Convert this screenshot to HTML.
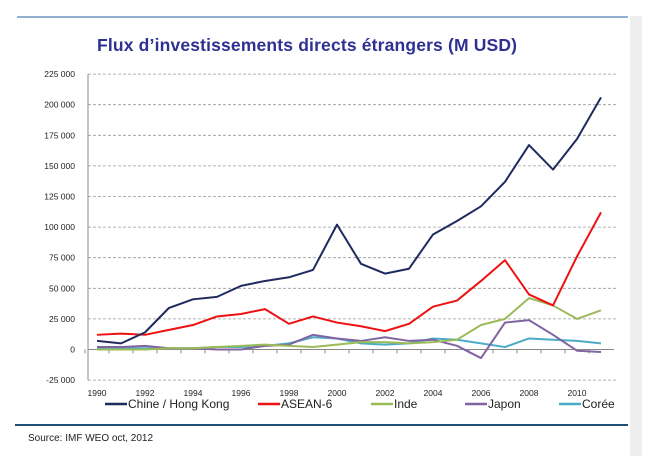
<!DOCTYPE html>
<html><head><meta charset="utf-8"><style>
body{margin:0;background:#fff;width:651px;height:464px;overflow:hidden;font-family:"Liberation Sans",sans-serif}
</style></head><body>
<svg id="c" width="651" height="464" xmlns="http://www.w3.org/2000/svg">
<rect x="630" y="16" width="12" height="440" fill="#eeeeee"/>
<line x1="17" y1="17" x2="628" y2="17" stroke="#8fb0cf" stroke-width="2"/>
<text x="97" y="51" font-size="17.5" font-weight="bold" fill="#2e3192" textLength="420">Flux d’investissements directs étrangers (M USD)</text>
<line x1="15" y1="425" x2="628" y2="425" stroke="#1f4e79" stroke-width="2"/>
<text x="28" y="441" font-size="10" fill="#222">Source: IMF WEO oct, 2012</text>
<g id="grid"></g><g id="series"></g><g id="legend"></g>
</svg>
<script>
const years=[1990,1991,1992,1993,1994,1995,1996,1997,1998,1999,2000,2001,2002,2003,2004,2005,2006,2007,2008,2009,2010,2011];
const yTicks=[225000,200000,175000,150000,125000,100000,75000,50000,25000,0,-25000];
const xTickYears=[1990,1992,1994,1996,1998,2000,2002,2004,2006,2008,2010];
const chine=[7,5,14,34,41,43,52,56,59,65,102,70,62,66,94,105,117,137,167,147,172,206];
const asean=[12,13,12,16,20,27,29,33,21,27,22,19,15,21,35,40,56,73,45,36,76,112];
const inde=[0,0,0,1,1,2,3,4,3,2,4,6,6,5,6,8,20,25,42,36,25,32];
const japon=[2,2,3,1,1,0,0,3,4,12,9,7,10,7,8,3,-7,22,24,12,-1,-2];
const coree=[1,1,1,1,1,2,2,3,5,10,9,5,4,5,9,8,5,2,9,8,7,5];
const seriesNames=["Chine / Hong Kong","ASEAN-6","Inde","Japon","Corée"];
const NS="http://www.w3.org/2000/svg";
const X=y=>97+(y-1990)*24;
const Y=v=>349.5-v*1.224/1000;
function mk(t,a,p){const e=document.createElementNS(NS,t);for(const k in a)e.setAttribute(k,a[k]);p.appendChild(e);return e;}
const g=document.getElementById('grid');
yTicks.forEach(v=>{
  if(v!==0){const l=mk('line',{x1:88,x2:618,y1:Y(v),y2:Y(v),stroke:'#999','stroke-dasharray':'3,2','stroke-width':0.8},g);
  
  }
  const t=mk('text',{x:75,y:Y(v)+3,'font-size':8.5,'text-anchor':'end',fill:'#222'},g);
  t.textContent=v.toLocaleString('fr-FR').replace(/\u202f|\u00a0/g,' ');
  
  
});
const ax=mk('line',{x1:88,x2:88,y1:Y(225000),y2:Y(-25000),stroke:'#888'},g);


const xa=mk('line',{x1:88,x2:614,y1:Y(0),y2:Y(0),stroke:'#888'},g);


years.forEach(y=>{const tk=mk('line',{x1:X(y)-12,x2:X(y)-12,y1:Y(0),y2:Y(0)+4,stroke:'#888'},g);

});
xTickYears.forEach(y=>{const t=mk('text',{x:X(y),y:396,'font-size':8.5,'text-anchor':'middle',fill:'#222'},g);t.textContent=y;

});
const data=[coree,japon,inde,asean,chine];
const cols=["#4bacc6","#8064a2","#9bbb59","#ee1111","#1f2a5e"];
const s=document.getElementById('series');
data.forEach((d,i)=>{
  const p=mk('polyline',{points:d.map((v,j)=>X(years[j])+','+Y(v*1000)).join(' '),fill:'none',stroke:cols[i],'stroke-width':2,'stroke-linejoin':'round'},s);
  
  
});
const lg=document.getElementById('legend');
const lx=[105,258,371,465,559];
const lc=["#1f2a5e","#ee1111","#9bbb59","#8064a2","#4bacc6"];
seriesNames.forEach((n,i)=>{
  const l=mk('line',{x1:lx[i],x2:lx[i]+22,y1:404,y2:404,stroke:lc[i],'stroke-width':2.5},lg);
  
  
  const t=mk('text',{x:lx[i]+23,y:408,'font-size':12,fill:'#222'},lg);t.textContent=n;
  
  
});
</script>
</body></html>
